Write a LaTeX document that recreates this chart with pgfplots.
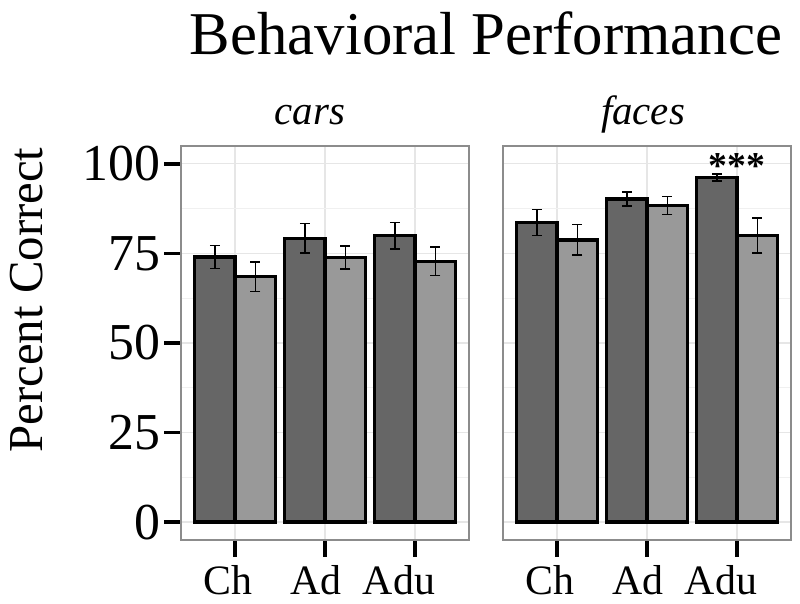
\documentclass[border=0pt]{standalone}
\usepackage{pgfplots}
\pgfplotsset{compat=1.18}
\usepackage{fontspec}
\setmainfont{Liberation Serif}
\definecolor{darkbar}{HTML}{666666}
\definecolor{lightbar}{HTML}{999999}
\definecolor{gridmaj}{HTML}{E6E6E6}
\definecolor{gridmin}{HTML}{F0F0F0}
\definecolor{border}{HTML}{8C8C8C}

\pgfplotsset{
  facet/.style={
    scale only axis,
    width=288bp, height=394bp,
    anchor=south west,
    xmin=0.4, xmax=3.6,
    ymin=-5, ymax=105,
    ytick={0,25,50,75,100},
    minor y tick num=1,
    xtick={1,2,3},
    xticklabels={Ch\hspace*{14bp},Ad\hspace*{18bp},Adu\hspace*{32bp}},
    grid=both,
    major grid style={draw=gridmaj, line width=1.2bp},
    minor grid style={draw=gridmin, line width=1bp},
    axis line style={draw=border, line width=1.5bp},
    tick align=outside,
    major tick length=17bp,
    minor tick length=0pt,
    xtick pos=bottom, ytick pos=left,
    tick style={black, line width=3.5bp},
    /pgf/number format/assume math mode=true,
    yticklabel style={font=\fontsize{52}{56}\selectfont},
    xticklabel style={font=\fontsize{42}{46}\selectfont, anchor=base, yshift=-38bp},
    ybar, bar width=0.45,
  },
  darkbars/.style={ybar, bar shift=0pt, fill=darkbar, draw=black, line width=3.5bp,
    error bars/.cd, y dir=both, y explicit,
    error bar style={line width=1.5bp, black},
    error mark options={rotate=90, mark size=5bp, line width=1.5bp, black}},
  lightbars/.style={ybar, bar shift=0pt, fill=lightbar, draw=black, line width=3.5bp,
    error bars/.cd, y dir=both, y explicit,
    error bar style={line width=1.5bp, black},
    error mark options={rotate=90, mark size=5bp, line width=1.5bp, black}},
}

\begin{document}
\begin{tikzpicture}[x=1bp,y=1bp]
\useasboundingbox (0,0) rectangle (800,604);

% cars panel
\begin{axis}[facet, at={(181bp,64bp)}]
\addplot+[darkbars] coordinates {
  (0.775,74.0) +- (0,3.2)
  (1.775,79.2) +- (0,4.1)
  (2.775,80.0) +- (0,3.7)
};
\addplot+[lightbars] coordinates {
  (1.225,68.5) +- (0,4.1)
  (2.225,73.9) +- (0,3.2)
  (3.225,72.8) +- (0,4.0)
};
\end{axis}

% faces panel
\begin{axis}[facet, at={(503bp,64bp)}, yticklabels={}, ytick style={draw=none}]
\addplot+[darkbars] coordinates {
  (0.775,83.6) +- (0,3.6)
  (1.775,90.2) +- (0,2.0)
  (2.775,96.2) +- (0,1.0)
};
\addplot+[lightbars] coordinates {
  (1.225,78.8) +- (0,4.3)
  (2.225,88.4) +- (0,2.5)
  (3.225,80.0) +- (0,4.9)
};
\node[anchor=base, font=\bfseries\fontsize{38}{42}\selectfont] at (axis cs:3,95.8) {***};
\end{axis}

% titles and labels
\node[anchor=base, font=\fontsize{61}{66}\selectfont] at (486,549) {Behavioral Performance};
\node[anchor=base, font=\itshape\fontsize{41}{45}\selectfont] at (310,479) {cars};
\node[anchor=base, font=\itshape\fontsize{41}{45}\selectfont] at (643,479) {faces};
\node[anchor=base, rotate=90, font=\fontsize{49}{53}\selectfont] at (42,304) {Percent Correct};
\end{tikzpicture}
\end{document}
